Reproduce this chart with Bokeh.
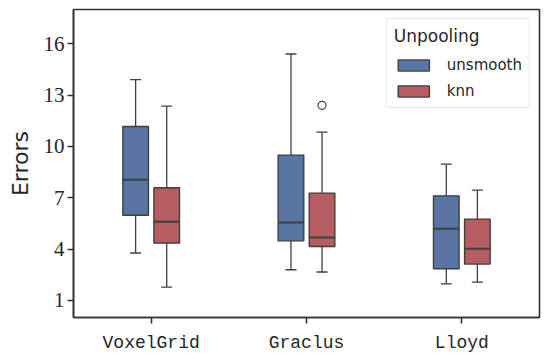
from bokeh.plotting import figure
from bokeh.models import FactorRange, ColumnDataSource, FixedTicker, Whisker, TeeHead, Legend, LegendItem, Range1d
from bokeh.transform import dodge
from bokeh.embed import file_html
from bokeh.resources import INLINE

categories = ["VoxelGrid", "Graclus", "Lloyd"]
hues = ["unsmooth", "knn"]
colors = ["#5975A4", "#B55D60"]

# five-number summaries per hue (per category)
unsmooth_low = [3.77, 2.79, 1.96]
unsmooth_q1 = [5.98, 4.48, 2.85]
unsmooth_med = [8.05, 5.55, 5.19]
unsmooth_q3 = [11.16, 9.49, 7.11]
unsmooth_high = [13.9, 15.4, 8.96]

knn_low = [1.78, 2.66, 2.07]
knn_q1 = [4.35, 4.15, 3.12]
knn_med = [5.59, 4.68, 4.02]
knn_q3 = [7.58, 7.27, 5.75]
knn_high = [12.35, 10.83, 7.44]

outlier_cat = ["Graclus"]
outlier_val = [12.4]

y_ticks = [1, 4, 7, 10, 13, 16]

LINE = "#3F3F3F"
DARK = "#333333"

p = figure(x_range=FactorRange(*categories, range_padding=0.0), y_range=Range1d(0, 18),
           frame_width=466, frame_height=308, output_backend="svg", toolbar_location=None,
           min_border_left=73, min_border_right=10, min_border_top=9, min_border_bottom=43)
p.x_range.factor_padding = 0.0

offset = 0.1
bw = 0.165
cap = 11

series = [
    (unsmooth_low, unsmooth_q1, unsmooth_med, unsmooth_q3, unsmooth_high),
    (knn_low, knn_q1, knn_med, knn_q3, knn_high),
]

legend_items = []
for i, (lo, q1, med, q3, hi) in enumerate(series):
    off = -offset if i == 0 else offset
    src = ColumnDataSource(dict(cat=categories, lo=lo, q1=q1, med=med, q3=q3, hi=hi))
    w = Whisker(base=dodge("cat", off, range=p.x_range), lower="lo", upper="hi", source=src,
                line_color=LINE, line_width=1.3, level="underlay",
                upper_head=TeeHead(size=cap, line_color=LINE, line_width=1.3),
                lower_head=TeeHead(size=cap, line_color=LINE, line_width=1.3))
    p.add_layout(w)
    r = p.vbar(x=dodge("cat", off, range=p.x_range), bottom="q1", top="q3", width=bw, source=src,
               fill_color=colors[i], line_color=LINE, line_width=1.4)
    p.segment(x0=dodge("cat", off - bw / 2, range=p.x_range), x1=dodge("cat", off + bw / 2, range=p.x_range),
              y0="med", y1="med", source=src, line_color=LINE, line_width=2)
    legend_items.append(LegendItem(label=hues[i], renderers=[r]))

osrc = ColumnDataSource(dict(cat=outlier_cat, val=outlier_val))
p.scatter(x=dodge("cat", offset, range=p.x_range), y="val", source=osrc, size=8,
          fill_color=None, line_color=LINE, line_width=1.2)

legend = Legend(items=legend_items, location="top_right", title="Unpooling")
legend.title_text_font = "DejaVu Sans"
legend.title_text_font_size = "17px"
legend.title_text_font_style = "normal"
legend.title_text_color = "#262626"
legend.title_standoff = 10
legend.label_text_font = "DejaVu Sans"
legend.label_text_font_size = "15px"
legend.label_text_color = "#262626"
legend.glyph_width = 39
legend.glyph_height = 14
legend.label_standoff = 14
legend.spacing = 8
legend.padding = 7
legend.margin = 9
legend.border_line_color = "#D6D6D6"
legend.border_line_width = 1
legend.background_fill_alpha = 0.9
p.add_layout(legend)

p.outline_line_color = DARK
p.outline_line_width = 1.6
p.xgrid.visible = False
p.ygrid.visible = False

p.yaxis.ticker = FixedTicker(ticks=y_ticks)
p.yaxis.axis_label = "Errors"
p.yaxis.axis_label_text_font = "DejaVu Sans"
p.yaxis.axis_label_text_font_size = "22px"
p.yaxis.axis_label_text_font_style = "normal"
p.yaxis.axis_label_text_color = "#262626"
p.yaxis.axis_label_standoff = 8
p.yaxis.major_label_text_font = "Liberation Serif"
p.yaxis.major_label_text_font_size = "21px"
p.yaxis.major_label_text_color = "#262626"
p.yaxis.major_label_standoff = 3
p.yaxis.minor_tick_line_color = None

p.xaxis.major_label_text_font = "Liberation Mono"
p.xaxis.major_label_text_font_size = "18px"
p.xaxis.major_label_text_color = "#262626"
p.xaxis.major_label_standoff = 9

for ax in (p.xaxis, p.yaxis):
    ax.axis_line_color = DARK
    ax.axis_line_width = 1.6
    ax.major_tick_line_color = DARK
    ax.major_tick_line_width = 1.6
    ax.major_tick_out = 6
    ax.major_tick_in = 0

open("out.html", "w").write(file_html(p, INLINE))
